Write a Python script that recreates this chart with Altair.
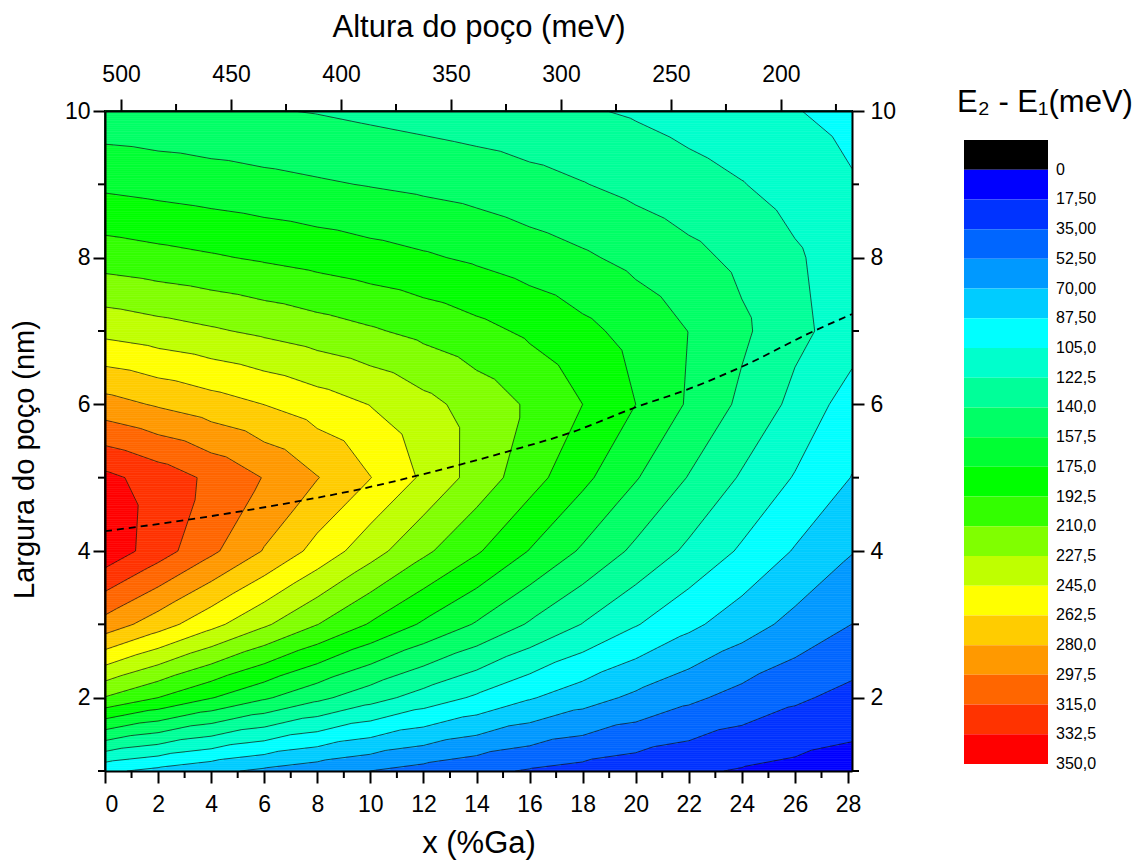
import altair as alt
import numpy as np
import pandas as pd

FONT = "Liberation Sans"

# ---- data grid: E2-E1 (meV) at x (%Ga) nodes, for each well width (nm)
x_nodes = [0, 2, 4, 6, 8, 10, 12, 14, 16, 18, 20, 22, 24, 26, 28.15]
w_nodes = [1, 2, 3, 4, 5, 6, 7, 8, 9, 10]

e_w1 = [91.0, 82.5, 74.2, 66.5, 59.4, 52.4, 45.8, 39.3, 33.4, 29.0, 24.6, 20.2, 16.1, 12.7, 9.4]
e_w2 = [209.1, 192.5, 175.9, 160.0, 144.4, 129.5, 115.3, 102.4, 89.1, 77.5, 66.4, 56.1, 46.5, 37.8, 29.7]
e_w3 = [290.6, 270.6, 250.3, 230.3, 210.4, 191.0, 172.6, 155.9, 138.2, 121.9, 106.2, 91.6, 78.0, 64.8, 52.4]
e_w4 = [345.0, 323.3, 301.1, 278.9, 256.6, 234.6, 213.7, 194.7, 174.3, 155.1, 136.3, 119.0, 102.6, 86.2, 70.9]
e_w5 = [337.0, 325.0, 311.4, 296.7, 280.7, 262.9, 242.1, 220.6, 199.6, 179.4, 158.8, 139.1, 120.6, 103.8, 87.0]
e_w6 = [286.7, 278.1, 270.2, 262.3, 253.5, 244.5, 232.8, 220.7, 207.6, 192.5, 175.0, 155.5, 136.3, 117.9, 96.5]
e_w7 = [240.0, 234.8, 229.7, 224.1, 218.1, 212.1, 205.2, 197.7, 189.4, 179.6, 168.8, 157.2, 143.3, 127.0, 114.0]
e_w8 = [201.8, 198.1, 194.4, 190.3, 186.1, 181.6, 177.2, 172.2, 166.1, 160.0, 152.7, 144.8, 135.7, 125.0, 112.0]
e_w9 = [171.4, 168.4, 165.4, 162.4, 159.5, 156.6, 153.7, 150.5, 145.6, 140.7, 135.0, 129.1, 123.2, 115.4, 106.5]
e_w10 = [146.0, 144.4, 142.8, 141.1, 139.1, 136.1, 133.2, 130.2, 127.2, 124.2, 120.5, 115.6, 110.7, 105.8, 99.5]

# dashed ridge (width of maximum)
ridge_x = [0, 3, 7, 9.7, 11.8, 15.2, 17.6, 20, 22, 24.1, 26.6, 28.15]
ridge_w = [4.27, 4.42, 4.66, 4.85, 5.03, 5.36, 5.62, 5.96, 6.21, 6.53, 6.98, 7.23]

level_step = 17.5
band_colors = ["#0000FF", "#0033FF", "#0066FF", "#0099FF", "#00CCFF", "#00FFFF", "#00FFCC",
               "#00FF99", "#00FF66", "#00FF33", "#00FF00", "#33FF00", "#80FF00", "#BFFF00",
               "#FFFF00", "#FFCC00", "#FF9900", "#FF6600", "#FF3300", "#FF0000"]
bar_labels = ["0", "17,50", "35,00", "52,50", "70,00", "87,50", "105,0", "122,5", "140,0",
              "157,5", "175,0", "192,5", "210,0", "227,5", "245,0", "262,5", "280,0", "297,5",
              "315,0", "332,5", "350,0"]

x_major = [0, 2, 4, 6, 8, 10, 12, 14, 16, 18, 20, 22, 24, 26, 28]
x_minor = [1, 3, 5, 7, 9, 11, 13, 15, 17, 19, 21, 23, 25, 27]
h_major = [500, 450, 400, 350, 300, 250, 200]
h_minor = [475, 425, 375, 325, 275, 225, 175]
w_major = [2, 4, 6, 8, 10]
w_minor = [1, 3, 5, 7, 9]
h_left, h_right = 507.3, 167.7

# ---- triangulated linear field (as a contour program does)
X = np.array(x_nodes, float)
W = np.array(w_nodes, float)
Z = np.array([e_w1, e_w2, e_w3, e_w4, e_w5, e_w6, e_w7, e_w8, e_w9, e_w10], float)


def field(xq, wq):
    i = np.clip(np.searchsorted(X, xq, side="right") - 1, 0, len(X) - 2)
    j = np.clip(np.searchsorted(W, wq, side="right") - 1, 0, len(W) - 2)
    u = (xq - X[i]) / (X[i + 1] - X[i])
    v = (wq - W[j]) / (W[j + 1] - W[j])
    z00, z10 = Z[j, i], Z[j, i + 1]
    z01, z11 = Z[j + 1, i], Z[j + 1, i + 1]
    return np.where(u >= v, z00 + u * (z10 - z00) + v * (z11 - z10),
                    z00 + v * (z01 - z00) + u * (z11 - z01))


ny, nx = 360, 2252
ye = np.linspace(1, 10, ny + 1)
yc = (ye[:-1] + ye[1:]) / 2
xe = np.linspace(0, x_nodes[-1], nx + 1)
xc = (xe[:-1] + xe[1:]) / 2
XX, YY = np.meshgrid(xc, yc)
B = np.clip(np.floor(field(XX, YY) / level_step).astype(int), 0, 19)
rows = []
for r in range(ny):
    b = B[r]
    ch = np.nonzero(np.diff(b))[0] + 1
    starts = np.concatenate([[0], ch])
    ends = np.concatenate([ch, [nx]])
    for s, e in zip(starts, ends):
        rows.append((float(xe[s]), float(xe[e]), float(ye[r]), float(ye[r + 1]), int(b[s])))
fill_df = pd.DataFrame(rows, columns=["x0", "x1", "w0", "w1", "band"])

segs = []
levels = [level_step * k for k in range(1, 20)]
for j in range(len(W) - 1):
    for i in range(len(X) - 1):
        p00 = (X[i], W[j], Z[j, i])
        p10 = (X[i + 1], W[j], Z[j, i + 1])
        p11 = (X[i + 1], W[j + 1], Z[j + 1, i + 1])
        p01 = (X[i], W[j + 1], Z[j + 1, i])
        for tri in ((p00, p10, p11), (p00, p11, p01)):
            for L in levels:
                pts = []
                for a, c in ((0, 1), (1, 2), (2, 0)):
                    za, zc = tri[a][2] - L, tri[c][2] - L
                    if (za < 0) != (zc < 0):
                        t = za / (za - zc)
                        pts.append((tri[a][0] + t * (tri[c][0] - tri[a][0]),
                                    tri[a][1] + t * (tri[c][1] - tri[a][1])))
                if len(pts) == 2:
                    segs.append((pts[0][0], pts[0][1], pts[1][0], pts[1][1]))
seg_df = pd.DataFrame(segs, columns=["xa", "wa", "xb", "wb"])

ridge_df = pd.DataFrame({"x": ridge_x, "w": ridge_w})

# ---- scales
xs = alt.Scale(domain=[0, x_nodes[-1]], nice=False, zero=False)
ws = alt.Scale(domain=[1, 10], nice=False, zero=False)
hs = alt.Scale(domain=[h_right, h_left], reverse=True, nice=False, zero=False)
band_scale = alt.Scale(domain=list(range(20)), range=band_colors)

PW, PH = 747, 660
TICK = 12
MINOR = 7

ax_common = dict(domainColor="black", domainWidth=2, tickColor="black", tickWidth=2,
                 tickSize=TICK, labelFont=FONT, labelFontSize=23, labelColor="black",
                 titleFont=FONT, titleFontWeight="normal",
                 titleColor="black", grid=False, zindex=1)

fill = alt.Chart(fill_df).mark_rect(strokeWidth=0.6).encode(
    x=alt.X("x0:Q", scale=xs, axis=alt.Axis(orient="bottom", values=x_major, title="x (%Ga)",
                                           labelPadding=10, titlePadding=12, titleFontSize=31,
                                           **ax_common)),
    x2="x1:Q",
    y=alt.Y("w0:Q", scale=ws, axis=alt.Axis(orient="left", values=w_major,
                                           title="Largura do poço (nm)", labelPadding=3,
                                           titlePadding=25, titleFontSize=29, titleY=348,
                                           **ax_common)),
    y2="w1:Q",
    color=alt.Color("band:O", scale=band_scale, legend=None),
    stroke=alt.Stroke("band:O", scale=band_scale, legend=None),
)

contours = alt.Chart(seg_df).mark_rule(color="#111111", strokeWidth=0.7).encode(
    x=alt.X("xa:Q", scale=xs, axis=None), y=alt.Y("wa:Q", scale=ws, axis=None),
    x2="xb:Q", y2="wb:Q",
)

ridge = alt.Chart(ridge_df).mark_line(color="black", strokeWidth=1.8, strokeDash=[7, 5],
                                      interpolate="monotone").encode(
    x=alt.X("x:Q", scale=xs, axis=None), y=alt.Y("w:Q", scale=ws, axis=None),
)

top_axis = alt.Chart(pd.DataFrame({"h": h_major})).mark_point(opacity=0).encode(
    x=alt.X("h:Q", scale=hs, axis=alt.Axis(orient="top", values=h_major,
                                          title="Altura do poço (meV)", labelPadding=13,
                                          titlePadding=20, titleFontSize=31, **ax_common)),
    y=alt.value(0),
)

right_axis = alt.Chart(pd.DataFrame({"w": w_major})).mark_point(opacity=0).encode(
    y=alt.Y("w:Q", scale=ws, axis=alt.Axis(orient="right", values=w_major, title="",
                                          labelPadding=6, **ax_common)),
    x=alt.value(0),
)

minor_bottom = alt.Chart(pd.DataFrame({"v": x_minor})).mark_rule(color="black", strokeWidth=2).encode(
    x=alt.X("v:Q", scale=xs, axis=None), y=alt.value(PH), y2=alt.value(PH + MINOR))
minor_top = alt.Chart(pd.DataFrame({"v": h_minor})).mark_rule(color="black", strokeWidth=2).encode(
    x=alt.X("v:Q", scale=hs, axis=None), y=alt.value(0), y2=alt.value(-MINOR))
minor_left = alt.Chart(pd.DataFrame({"v": w_minor})).mark_rule(color="black", strokeWidth=2).encode(
    y=alt.Y("v:Q", scale=ws, axis=None), x=alt.value(0), x2=alt.value(-MINOR))
minor_right = alt.Chart(pd.DataFrame({"v": w_minor})).mark_rule(color="black", strokeWidth=2).encode(
    y=alt.Y("v:Q", scale=ws, axis=None), x=alt.value(PW), x2=alt.value(PW + MINOR))

# ---- colour bar (custom legend)
cb_scale = alt.Scale(domain=[0, 21], range=[29, 653], nice=False, zero=False)
cb_df = pd.DataFrame({"k": list(range(21)), "k1": list(range(1, 22)),
                      "col": ["#000000"] + band_colors})
cbar = alt.Chart(cb_df).mark_rect().encode(
    x=alt.value(859), x2=alt.value(943),
    y=alt.Y("k:Q", scale=cb_scale, axis=None), y2="k1:Q",
    color=alt.Color("col:N", scale=None),
)
cb_lab = alt.Chart(pd.DataFrame({"pos": list(range(1, 22)), "lab": bar_labels})).mark_text(
    align="left", baseline="middle", font=FONT, fontSize=16, color="black").encode(
    x=alt.value(951), y=alt.Y("pos:Q", scale=cb_scale, axis=None), text="lab:N")
cb_title = alt.Chart(pd.DataFrame({"t": ["E₂ - E₁(meV)"]})).mark_text(
    align="center", baseline="alphabetic", font=FONT, fontSize=31, color="black").encode(
    x=alt.value(940), y=alt.value(1), text="t:N")

chart = alt.layer(
    fill, contours, ridge, top_axis, right_axis,
    minor_bottom, minor_top, minor_left, minor_right,
    cbar, cb_lab, cb_title,
).resolve_scale(x="independent", y="independent").properties(
    width=PW, height=PH,
    padding={"left": 10, "top": 11, "right": 5, "bottom": 5},
    background="white",
).configure_view(stroke="black", strokeWidth=2)

chart.save("out.html", embed_options={"renderer": "svg", "actions": False})
